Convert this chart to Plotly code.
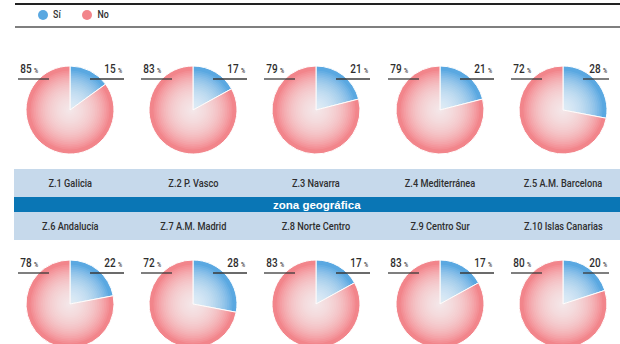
import plotly.graph_objects as go

# ---------------- data ----------------
zones_top = ["Z.1 Galicia", "Z.2 P. Vasco", "Z.3 Navarra", "Z.4 Mediterránea", "Z.5 A.M. Barcelona"]
zones_bottom = ["Z.6 Andalucía", "Z.7 A.M. Madrid", "Z.8 Norte Centro", "Z.9 Centro Sur", "Z.10 Islas Canarias"]
si_top = [15, 17, 21, 21, 28]
no_top = [85, 83, 79, 79, 72]
si_bottom = [22, 28, 17, 17, 20]
no_bottom = [78, 72, 83, 83, 80]
series_labels = ["Sí", "No"]
band_title = "zona geográfica"

# ---------------- layout constants ----------------
W, H = 620, 352
centers_x = [70, 193, 316, 440, 563]
row_cy = [110, 304]
R = 44
BLUE = "#5aa8e1"
PINK = "#f2858b"
TXT = "#2e2e2e"
FONT = "Roboto"


def px(x):
    return x / W


def py(y):
    return 1 - y / H


fig = go.Figure()
shapes = []
annotations = []

rows = [(si_top, no_top), (si_bottom, no_bottom)]
for r, (si_vals, no_vals) in enumerate(rows):
    cy = row_cy[r]
    for i, cx in enumerate(centers_x):
        fig.add_trace(go.Pie(
            labels=series_labels,
            values=[si_vals[i], no_vals[i]],
            sort=False,
            direction="clockwise",
            rotation=0,
            marker=dict(colors=[BLUE, PINK], line=dict(color="white", width=1)),
            textinfo="none",
            hoverinfo="label+percent",
            showlegend=False,
            domain=dict(x=[px(cx - R), px(cx + R)], y=[py(cy + R), py(cy - R)]),
        ))
        # radial white glow to imitate gradient
        n = 22
        for k in range(n):
            rr = R * (0.9 - k * 0.04)
            if rr <= 0.8:
                break
            shapes.append(dict(type="circle", xref="paper", yref="paper",
                               x0=px(cx - rr), x1=px(cx + rr), y0=py(cy + rr), y1=py(cy - rr),
                               fillcolor="white", opacity=0.08, line=dict(width=0), layer="above"))
        # labels with underlines
        uy = cy - 31
        lx0, lx1 = cx - 52, cx - 21
        rx1 = min(cx + 54, 609)
        rx0 = cx + 20
        shapes.append(dict(type="line", xref="paper", yref="paper", x0=px(lx0), x1=px(lx1),
                           y0=py(uy), y1=py(uy), line=dict(color="#3a3a3a", width=1.3), layer="above"))
        shapes.append(dict(type="line", xref="paper", yref="paper", x0=px(rx0), x1=px(rx1),
                           y0=py(uy), y1=py(uy), line=dict(color="#3a3a3a", width=1.3), layer="above"))
        annotations.append(dict(x=px(lx0 - 2), y=py(uy - 1), xref="paper", yref="paper",
                                xanchor="left", yanchor="bottom", showarrow=False,
                                text=f"{no_vals[i]} <span style='font-size:7px'>%</span>",
                                font=dict(family=FONT, size=12.5, color=TXT, weight=500)))
        annotations.append(dict(x=px(rx1 + 2), y=py(uy - 1), xref="paper", yref="paper",
                                xanchor="right", yanchor="bottom", showarrow=False,
                                text=f"{si_vals[i]} <span style='font-size:7px'>%</span>",
                                font=dict(family=FONT, size=12.5, color=TXT, weight=500)))

# bands
shapes.append(dict(type="rect", xref="paper", yref="paper", x0=px(14), x1=1, y0=py(197), y1=py(169),
                   fillcolor="#c6d9eb", line=dict(width=0), layer="below"))
shapes.append(dict(type="rect", xref="paper", yref="paper", x0=px(14), x1=1, y0=py(212), y1=py(197),
                   fillcolor="#0a76b5", line=dict(width=0), layer="below"))
shapes.append(dict(type="rect", xref="paper", yref="paper", x0=px(14), x1=1, y0=py(240), y1=py(212),
                   fillcolor="#c6d9eb", line=dict(width=0), layer="below"))
for i, cx in enumerate(centers_x):
    annotations.append(dict(x=px(cx), y=py(183), xref="paper", yref="paper", showarrow=False,
                            xanchor="center", yanchor="middle",
                            text=zones_top[i], font=dict(family=FONT, size=11.5, color=TXT, weight=500)))
    annotations.append(dict(x=px(cx), y=py(226), xref="paper", yref="paper", showarrow=False,
                            xanchor="center", yanchor="middle",
                            text=zones_bottom[i], font=dict(family=FONT, size=11.5, color=TXT, weight=500)))
annotations.append(dict(x=px(317), y=py(204.5), xref="paper", yref="paper", showarrow=False,
                        xanchor="center", yanchor="middle", text=f"<b>{band_title}</b>",
                        font=dict(family="Liberation Sans", size=11.5, color="white")))

# top rules and legend
shapes.append(dict(type="line", xref="paper", yref="paper", x0=px(15), x1=1, y0=py(4), y1=py(4),
                   line=dict(color="#222222", width=2)))
shapes.append(dict(type="line", xref="paper", yref="paper", x0=px(15), x1=1, y0=py(27), y1=py(27),
                   line=dict(color="#555555", width=1.5)))
leg_x = [43, 87]
leg_c = [BLUE, PINK]
for lx, lc, lab in zip(leg_x, leg_c, series_labels):
    shapes.append(dict(type="circle", xref="paper", yref="paper", x0=px(lx - 5), x1=px(lx + 5),
                       y0=py(20), y1=py(10), fillcolor=lc, line=dict(width=0)))
    annotations.append(dict(x=px(lx + 7), y=py(15), xref="paper", yref="paper", xanchor="left",
                            yanchor="middle", showarrow=False, text=lab,
                            font=dict(family=FONT, size=11, color=TXT, weight=500)))

fig.update_layout(
    width=W, height=H,
    margin=dict(l=0, r=0, t=0, b=0),
    paper_bgcolor="white", plot_bgcolor="white",
    shapes=shapes, annotations=annotations,
    showlegend=False,
)

js = """
document.body.style.margin='0';
document.body.style.overflow='hidden';
document.documentElement.style.overflow='hidden';
var gd=document.getElementById('{plot_id}');
gd.querySelectorAll('text').forEach(function(t){
  if((t.getAttribute('style')||'').indexOf('Roboto')<0) return;
  var b=t.getBBox(); var c=b.x+b.width/2;
  var tr=t.getAttribute('transform')||'';
  t.setAttribute('transform', tr+' translate('+c+',0) scale(0.8,1) translate('+(-c)+',0)');
});
"""
fig.write_html("out.html", post_script=js)
